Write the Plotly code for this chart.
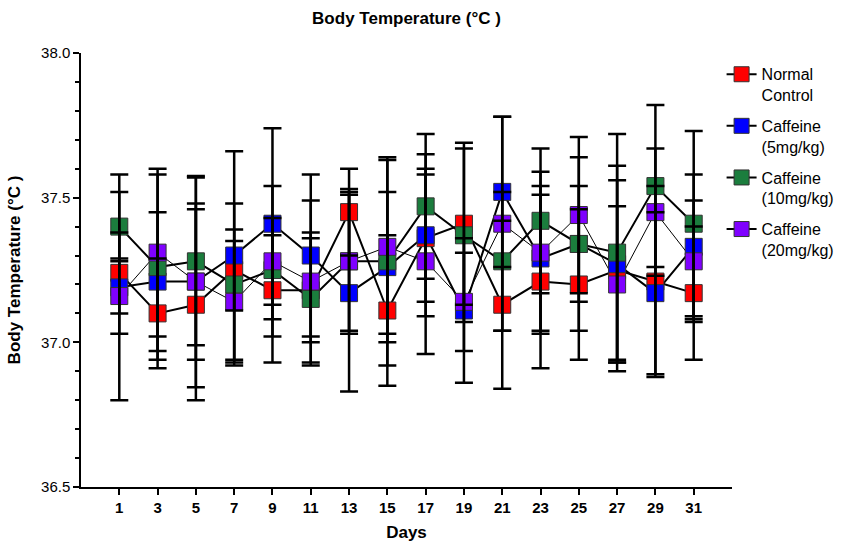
import plotly.graph_objects as go

days = [1, 3, 5, 7, 9, 11, 13, 15, 17, 19, 21, 23, 25, 27, 29, 31]

normal_mean = [37.24, 37.10, 37.13, 37.25, 37.18, 37.18, 37.45, 37.11, 37.36, 37.41, 37.13, 37.21, 37.20, 37.25, 37.21, 37.17]
normal_err = [0.14, 0.19, 0.33, 0.14, 0.25, 0.18, 0.15, 0.26, 0.22, 0.28, 0.29, 0.30, 0.26, 0.31, 0.33, 0.23]

caf5_mean = [37.19, 37.21, 37.21, 37.30, 37.41, 37.30, 37.17, 37.26, 37.37, 37.11, 37.52, 37.29, 37.34, 37.27, 37.17, 37.33]
caf5_err = [0.39, 0.24, 0.365, 0.36, 0.33, 0.28, 0.34, 0.26, 0.28, 0.25, 0.26, 0.25, 0.30, 0.34, 0.28, 0.25]

caf10_mean = [37.40, 37.26, 37.28, 37.20, 37.25, 37.15, 37.28, 37.28, 37.47, 37.37, 37.28, 37.42, 37.34, 37.31, 37.54, 37.41]
caf10_err = [0.12, 0.32, 0.29, 0.28, 0.12, 0.23, 0.24, 0.36, 0.25, 0.30, 0.24, 0.25, 0.20, 0.41, 0.28, 0.32]

caf20_mean = [37.16, 37.31, 37.21, 37.14, 37.28, 37.21, 37.28, 37.33, 37.28, 37.14, 37.41, 37.31, 37.44, 37.20, 37.45, 37.28]
caf20_err = [0.13, 0.29, 0.27, 0.21, 0.26, 0.28, 0.25, 0.30, 0.32, 0.17, 0.37, 0.28, 0.27, 0.27, 0.22, 0.21]

names = ["Normal<br>Control", "Caffeine<br>(5mg/kg)", "Caffeine<br>(10mg/kg)", "Caffeine<br>(20mg/kg)"]
colors = ["#FF0000", "#0000FF", "#1B7D3D", "#7F00FF"]
line_widths = [2, 2, 2, 1]
means = [normal_mean, caf5_mean, caf10_mean, caf20_mean]
errs = [normal_err, caf5_err, caf10_err, caf20_err]

FONT = "Liberation Sans, Arial, sans-serif"

fig = go.Figure()

# connecting lines (below all markers)
for m, lw in zip(means, line_widths):
    fig.add_trace(go.Scatter(x=days, y=m, mode="lines", line=dict(color="black", width=lw),
                             showlegend=False, hoverinfo="skip"))

# markers
for m, c in zip(means, colors):
    fig.add_trace(go.Scatter(x=days, y=m, mode="markers",
                             marker=dict(symbol="square", size=17, color=c,
                                         line=dict(color="#333333", width=1)),
                             showlegend=False))

# error bars on top
for m, e in zip(means, errs):
    fig.add_trace(go.Scatter(x=days, y=m, mode="markers",
                             marker=dict(size=2, color="rgba(0,0,0,0)"),
                             error_y=dict(type="data", array=e, visible=True,
                                          color="black", thickness=2.5, width=9),
                             showlegend=False, hoverinfo="skip"))

# legend entries
for i, (n, c) in enumerate(zip(names, colors)):
    fig.add_trace(go.Scatter(x=[None], y=[None], mode="lines+markers", name=n,
                             legendgroup=f"g{i}",
                             line=dict(color="black", width=2),
                             marker=dict(symbol="square", size=15, color=c,
                                         line=dict(color="#333333", width=1))))

fig.update_layout(
    width=844, height=545,
    margin=dict(l=81, r=112, t=53, b=58, autoexpand=False),
    plot_bgcolor="white", paper_bgcolor="white",
    font=dict(family=FONT, color="black", size=15),
    title=dict(text="<b>Body Temperature (°C )</b>", x=0.5, xref="paper", xanchor="center",
               y=1 - 18 / 545, yref="container", yanchor="middle",
               font=dict(size=17, color="black")),
    legend=dict(x=0.984, xanchor="left", y=0.99, yanchor="top", valign="top",
                font=dict(size=16, color="black"), bgcolor="rgba(0,0,0,0)",
                itemwidth=30, tracegroupgap=7),
    xaxis=dict(range=[-1, 33], tickvals=days, ticktext=[str(d) for d in days],
               showgrid=False, zeroline=False, showline=True, linecolor="black", linewidth=1.5,
               ticks="outside", ticklen=6, tickwidth=1.5, tickcolor="black", automargin=False,
               tickfont=dict(size=15, family=FONT, weight="bold"),
               title=dict(text="<b>Days</b>", font=dict(size=17), standoff=11)),
    yaxis=dict(range=[36.5, 38.0], tickvals=[36.5, 37.0, 37.5, 38.0], tickformat=".1f",
               showgrid=False, zeroline=False, showline=True, linecolor="black", linewidth=1.5,
               ticks="outside", ticklen=6, tickwidth=1.5, tickcolor="black", automargin=False,
               minor=dict(dtick=0.1, tick0=36.5, ticks="outside", ticklen=4, tickwidth=1.5, tickcolor="black"),
               tickfont=dict(size=15, family=FONT),
               title=dict(text="<b>Body Temperature (°C )</b>", font=dict(size=17), standoff=16)),
)

fig.write_html("out.html", config={"displayModeBar": False},
               post_script="document.body.style.margin='0px';")
